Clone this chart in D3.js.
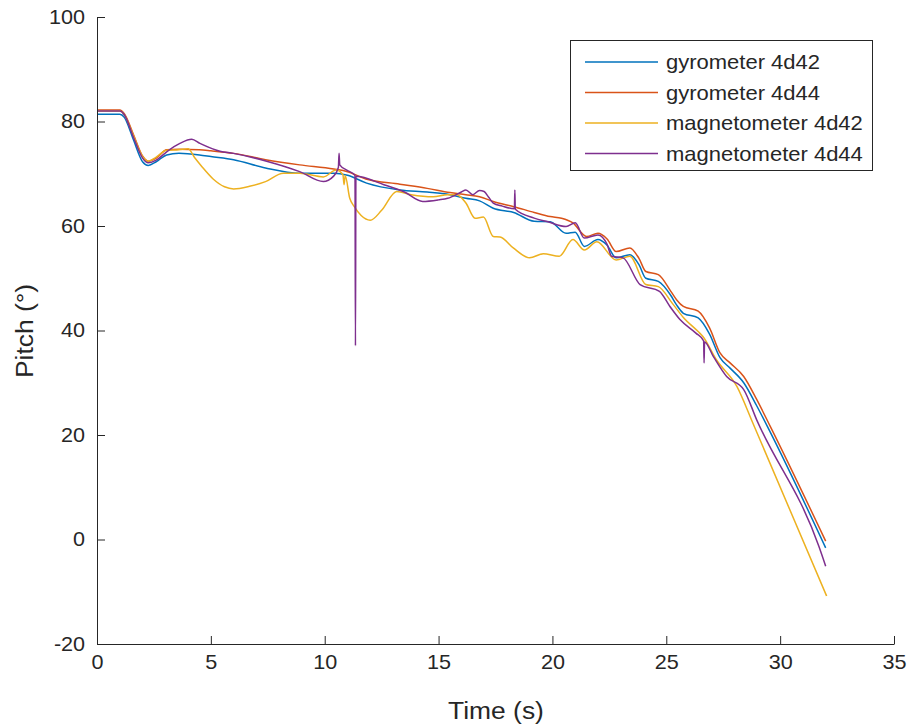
<!DOCTYPE html>
<html>
<head>
<meta charset="utf-8">
<script src="https://cdn.jsdelivr.net/npm/d3@7"></script>
<style>
  body { margin: 0; background: #fff; }
  svg { display: block; }
  .axis text { font-family: "Liberation Sans", Arial, sans-serif; font-size: 20px; fill: #262626; }
  .axis path, .axis line { stroke: #262626; stroke-width: 1; }
  .label { font-family: "Liberation Sans", Arial, sans-serif; font-size: 24px; fill: #262626; }
  .legend text { font-family: "Liberation Sans", Arial, sans-serif; font-size: 20px; fill: #262626; }
</style>
</head>
<body>
<svg width="911" height="728"></svg>
<script>
// pitch readings, [time s, pitch deg]
const gyro42 = [[0,81.4],[1.0,81.4],[1.2,80.8],[1.6,76.5],[2.0,72.3],[2.25,71.6],[2.6,72.3],[3.06,73.6],[3.6,73.9],[4.5,73.6],[5.0,73.3],[6.0,72.7],[7.4,71.1],[8.9,70.1],[10.4,70.1],[11.0,69.7],[11.84,68.2],[13.3,66.9],[14.5,66.5],[15.5,66.0],[16.2,65.3],[16.8,64.8],[17.4,63.4],[18.3,62.6],[19.2,60.9],[19.9,60.8],[20.6,58.6],[21.0,58.8],[21.4,56.1],[22.0,57.4],[22.4,56.3],[22.8,53.9],[23.4,54.5],[23.8,52.6],[24.1,50.0],[24.65,49.4],[25.2,46.7],[25.45,44.9],[25.75,43.3],[26.4,42.4],[26.9,39.3],[27.36,34.8],[27.8,32.8],[28.4,30.0],[28.97,25.6],[29.56,20.6],[32.0,-1.6]];
const gyro44 = [[0,82.2],[1.0,82.2],[1.2,81.5],[1.6,77.5],[2.0,73.4],[2.25,72.4],[2.6,73.0],[3.06,74.6],[3.6,74.7],[4.5,74.6],[5.0,74.4],[6.0,73.9],[7.4,72.7],[8.9,71.7],[10.4,70.9],[11.0,70.4],[11.8,69.0],[13.3,68.0],[14.5,67.2],[15.5,66.4],[16.2,66.0],[16.8,65.6],[17.4,64.7],[18.3,63.7],[19.2,62.6],[19.9,61.8],[20.4,61.5],[20.9,60.6],[21.5,58.0],[22.0,58.6],[22.4,57.5],[22.8,55.1],[23.4,55.8],[23.8,53.8],[24.1,51.3],[24.65,50.7],[25.2,47.5],[25.45,45.9],[25.75,44.6],[26.4,43.7],[26.9,40.5],[27.36,35.7],[27.8,33.8],[28.4,31.2],[28.97,26.8],[29.56,21.7],[32.0,-0.3]];
const mag42 = [[0,82.0],[1.0,82.0],[1.2,81.3],[1.6,77.3],[2.0,73.3],[2.25,72.4],[2.6,73.2],[3.06,74.5],[3.6,74.6],[4.0,74.8],[4.3,73.0],[4.6,71.4],[5.1,69.0],[5.6,67.5],[6.0,67.1],[6.7,67.6],[7.4,68.5],[8.18,70.1],[8.9,70.1],[9.94,69.4],[10.5,70.7],[10.8,69.8],[10.85,67.9],[10.9,69.6],[11.1,65.3],[11.3,63.7],[11.6,62.0],[12.0,61.1],[12.5,63.0],[13.16,66.6],[13.8,66.0],[14.76,65.6],[15.4,66.0],[15.8,66.0],[16.2,64.4],[16.6,61.5],[16.97,61.7],[17.4,58.0],[17.7,57.9],[18.28,55.8],[19.0,53.9],[19.6,54.7],[20.3,54.2],[20.9,57.4],[21.4,55.4],[21.95,57.0],[22.8,53.5],[23.4,54.2],[24.1,48.8],[24.65,48.4],[25.3,45.0],[25.75,42.5],[26.4,39.8],[26.6,38.9],[27.2,34.4],[28.1,29.3],[28.8,22.3],[32.04,-10.8]];
const mag44 = [[0,82.0],[1.0,82.0],[1.2,81.3],[1.6,77.0],[2.0,73.0],[2.25,72.1],[2.6,72.6],[3.06,74.2],[3.64,75.8],[4.16,76.6],[4.52,75.8],[5.4,74.3],[5.99,73.9],[7.45,72.4],[8.9,70.4],[9.94,68.5],[10.38,69.5],[10.6,71.2],[10.63,73.9],[10.66,71.7],[10.97,70.7],[11.33,69.7],[11.35,37.1],[11.37,69.5],[12.6,67.9],[13.5,66.5],[14.3,64.7],[15.0,65.0],[15.4,65.3],[16.0,66.5],[16.2,66.9],[16.5,66.0],[16.8,66.8],[17.0,66.6],[17.2,65.5],[17.4,64.4],[17.8,63.8],[18.33,63.3],[18.35,66.9],[18.37,63.2],[19.2,61.5],[19.8,60.8],[20.6,59.9],[21.0,60.6],[21.4,57.7],[22.0,58.3],[22.4,56.5],[22.6,54.2],[23.1,53.9],[23.85,48.8],[24.7,47.5],[25.16,44.6],[25.6,42.1],[26.3,39.5],[26.64,38.0],[26.66,33.8],[26.68,37.8],[27.07,35.0],[27.65,31.2],[28.4,28.7],[28.97,22.9],[31.7,-1.3],[32.0,-5.1]];

const seriesNames = ["gyrometer 4d42", "gyrometer 4d44", "magnetometer 4d42", "magnetometer 4d44"];
const seriesColors = ["#0072BD", "#D95319", "#EDB120", "#7E2F8E"];
const xTicks = [0, 5, 10, 15, 20, 25, 30, 35];
const yTicks = [-20, 0, 20, 40, 60, 80, 100];

const svg = d3.select("svg");

const x = d3.scaleLinear().domain([0, 35]).range([97, 894]);
const y = d3.scaleLinear().domain([-20, 100]).range([644, 17]);

// curves
const line = d3.line().curve(d3.curveMonotoneX).x(d => x(d[0])).y(d => y(d[1]));
const allSeries = [gyro42, gyro44, mag42, mag44];
svg.append("g").selectAll("path")
    .data(allSeries)
    .enter().append("path")
    .attr("d", d => line(d))
    .attr("fill", "none")
    .attr("stroke", (d, i) => seriesColors[i])
    .attr("stroke-width", 1.5)
    .attr("stroke-linejoin", "round");

// axes, ticks pointing inward like matlab
svg.append("g")
    .attr("class", "axis")
    .attr("transform", "translate(0,644)")
    .call(d3.axisBottom(x).tickValues(xTicks).tickFormat(d => String(d))
        .tickSizeInner(-8).tickSizeOuter(0).tickPadding(11))
    .selectAll("text").attr("transform", "scale(1.08,1)");

svg.append("g")
    .attr("class", "axis")
    .attr("transform", "translate(97,0)")
    .call(d3.axisLeft(y).tickValues(yTicks).tickFormat(d => String(d))
        .tickSizeInner(-8).tickSizeOuter(0).tickPadding(11))
    .selectAll("text").attr("transform", "scale(1.08,1)");

svg.append("text")
    .attr("class", "label")
    .attr("transform", "translate(496,719) scale(1.1,1)")
    .attr("text-anchor", "middle")
    .text("Time (s)");

svg.append("text")
    .attr("class", "label")
    .attr("transform", "translate(33,331) rotate(-90) scale(1.1,1)")
    .attr("text-anchor", "middle")
    .text("Pitch (°)");

// legend
const legend = svg.append("g").attr("class", "legend");
legend.append("rect")
    .attr("x", 570.5).attr("y", 40.5)
    .attr("width", 302).attr("height", 130)
    .attr("fill", "#fff")
    .attr("stroke", "#262626");

const rows = legend.selectAll(".row")
    .data(seriesNames)
    .enter().append("g")
    .attr("class", "row")
    .attr("transform", (d, i) => `translate(0,${62 + i * 30.5})`);

rows.append("line")
    .attr("x1", 585).attr("x2", 658)
    .attr("stroke", (d, i) => seriesColors[i])
    .attr("stroke-width", 1.5);

rows.append("text")
    .attr("transform", "translate(666,0) scale(1.1,1)")
    .attr("dy", "0.35em")
    .text(d => d);
</script>
</body>
</html>
